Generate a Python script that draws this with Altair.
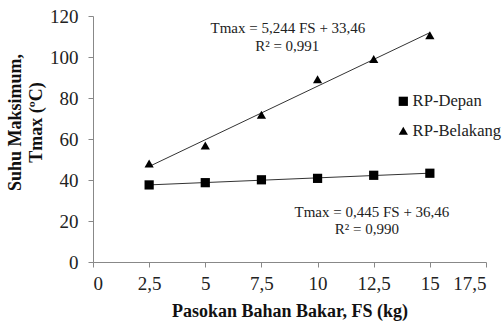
import altair as alt
import pandas as pd

fs = [2.5, 5, 7.5, 10, 12.5, 15]
depan = [37.6, 38.7, 40.1, 40.8, 42.3, 43.3]
belakang = [48.0, 56.8, 71.8, 89.2, 99.0, 110.6]
series_names = ["RP-Depan", "RP-Belakang"]

ann_text = ["Tmax = 5,244 FS + 33,46", "R² = 0,991", "Tmax = 0,445 FS + 36,46", "R² = 0,990"]
ann_x = [8.68, 8.65, 12.42, 12.2]
ann_y = [114.0, 105.4, 24.4, 16.2]

df = pd.DataFrame({
    "FS": fs * 2,
    "Tmax": depan + belakang,
    "series": [series_names[0]] * len(fs) + [series_names[1]] * len(fs),
})
ann = pd.DataFrame({"x": ann_x, "y": ann_y, "t": ann_text})

FONT = "Liberation Serif"

xscale = alt.Scale(domain=[0, 17.5], nice=False, zero=False)
yscale = alt.Scale(domain=[0, 120], nice=False)

common = dict(grid=False, labelFont=FONT, titleFont=FONT, labelFontSize=19, labelColor="#222",
              titleColor="#111", domainColor="#888", tickColor="#888", tickSize=5,
              titleFontWeight="bold", titleFontSize=18)

xaxis = alt.Axis(values=[0, 2.5, 5, 7.5, 10, 12.5, 15, 17.5],
                 labelExpr="replace(format(datum.value, '~g'), '.', ',')",
                 title="Pasokan Bahan Bakar, FS (kg)", titlePadding=9, labelPadding=7, **common)
yaxis = alt.Axis(values=[0, 20, 40, 60, 80, 100, 120],
                 title=["Suhu Maksimum,", "Tmax (ºC)"], titlePadding=4, titleY=106,
                 titleLineHeight=21, labelPadding=10, **common)

base = alt.Chart(df)

lines = base.transform_regression("FS", "Tmax", groupby=["series"], extent=[2.5, 15]).mark_line(
    color="#333333", strokeWidth=1
).encode(
    x=alt.X("FS:Q", scale=xscale, axis=xaxis),
    y=alt.Y("Tmax:Q", scale=yscale, axis=yaxis),
    detail="series:N",
)

points = base.mark_point(filled=True, color="black", size=85, opacity=1).encode(
    x=alt.X("FS:Q", scale=xscale),
    y=alt.Y("Tmax:Q", scale=yscale),
    shape=alt.Shape("series:N", scale=alt.Scale(domain=series_names, range=["square", "triangle-up"]),
                    legend=alt.Legend(title=None, orient="none", legendX=302, legendY=77,
                                      labelFont=FONT, labelFontSize=16.6, labelColor="#222",
                                      symbolFillColor="black", symbolStrokeColor="black",
                                      symbolSize=85, rowPadding=12.5, labelOffset=1)),
)

texts = alt.Chart(ann).mark_text(font=FONT, fontSize=15, color="#222").encode(
    x=alt.X("x:Q", scale=xscale),
    y=alt.Y("y:Q", scale=yscale),
    text="t:N",
)

chart = alt.layer(lines, points, texts).properties(
    width=393, height=246,
    background="white",
    autosize=alt.AutoSizeParams(type="none"),
    padding={"left": 93, "top": 16, "right": 16, "bottom": 59},
).configure_view(stroke=None)

chart.save("out.html", embed_options={"renderer": "svg", "actions": False})
